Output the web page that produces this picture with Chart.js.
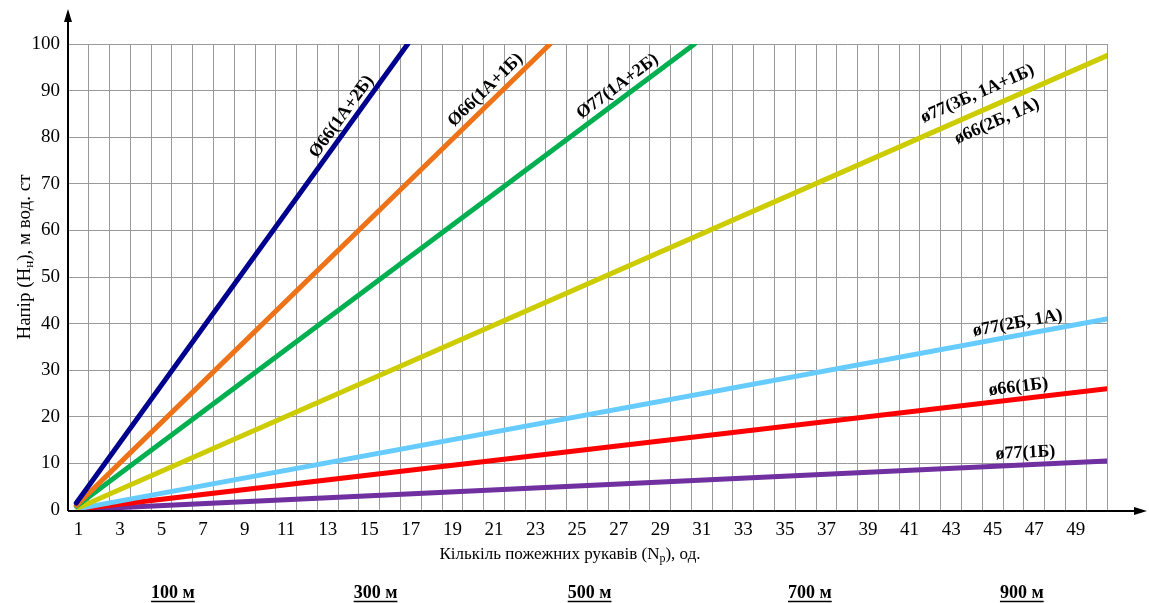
<!DOCTYPE html>
<html>
<head>
<meta charset="utf-8">
<script src="https://cdn.jsdelivr.net/npm/chart.js@4.4.1/dist/chart.umd.min.js"></script>
<style>
  html, body { margin: 0; padding: 0; background: #fff; }
  #wrap { width: 1149px; height: 603px; position: relative; }
</style>
</head>
<body>
<div id="wrap"><canvas id="chart"></canvas></div>
<script>
// x ticks: hose count, y ticks: head
var hoseTicks = [1, 2, 3, 4, 5, 6, 7, 8, 9, 10, 11, 12, 13, 14, 15, 16, 17, 18, 19, 20,
                 21, 22, 23, 24, 25, 26, 27, 28, 29, 30, 31, 32, 33, 34, 35, 36, 37, 38, 39, 40,
                 41, 42, 43, 44, 45, 46, 47, 48, 49, 50];
var headTicks = [0, 10, 20, 30, 40, 50, 60, 70, 80, 90, 100];

// series: [N, H] at start and end of each line
var d66_1A2B = [[0.9, 1.5], [16.85, 100]];
var d66_1A1B = [[0.9, 1.0], [23.7, 100]];
var d77_1A2B = [[0.9, 0.8], [30.65, 100]];
var d77_3B   = [[1.0, 0.5], [50.5, 97.5]];
var d77_2B1A = [[1.0, 0.3], [50.5, 41]];
var d66_1B   = [[1.0, 0.2], [50.5, 26]];
var d77_1B   = [[1.0, 0.1], [50.5, 10.5]];

var seriesNames = ['Ø66(1А+2Б)', 'Ø66(1А+1Б)', 'Ø77(1А+2Б)', 'ø77(3Б, 1А+1Б) / ø66(2Б, 1А)',
                   'ø77(2Б, 1А)', 'ø66(1Б)', 'ø77(1Б)'];
var seriesData = [d66_1A2B, d66_1A1B, d77_1A2B, d77_3B, d77_2B1A, d66_1B, d77_1B];
var seriesColors = ['#00008F', '#EE7318', '#00B050', '#CCCC00', '#66CCFF', '#FF0000', '#7030A0'];

// line labels: text, series index, position along line (N), offset from line (px, + is above)
var lineLabels = [
  ['Ø66(1А+2Б)', 0, 14.1, 11],
  ['Ø66(1А+1Б)', 1, 21.0, 12],
  ['Ø77(1А+2Б)', 2, 27.3, 12],
  ['ø77(3Б, 1А+1Б)', 3, 44.6, 17],
  ['ø66(2Б, 1А)', 3, 44.9, -16],
  ['ø77(2Б, 1А)', 4, 46.3, 12],
  ['ø66(1Б)', 5, 46.3, 12],
  ['ø77(1Б)', 6, 46.6, 12]
];
var distances = ['100 м', '300 м', '500 м', '700 м', '900 м'];
var distanceAt = [5.55, 15.3, 25.6, 36.2, 46.4];

var serif = "'Liberation Serif', 'DejaVu Serif', serif";

var datasets = seriesData.map(function (pts, i) {
  return {
    label: seriesNames[i],
    data: pts.map(function (p) { return { x: p[0], y: p[1] }; }),
    borderColor: seriesColors[i],
    backgroundColor: seriesColors[i],
    borderWidth: 5,
    borderCapStyle: 'round',
    pointRadius: 0,
    fill: false,
    order: i
  };
});

// draws text made of [string, isSubscript] parts centred on 0,0
function drawParts(ctx, parts, size) {
  var widths = parts.map(function (p) {
    ctx.font = (p[1] ? Math.round(size * 0.68) : size) + 'px ' + serif;
    return ctx.measureText(p[0]).width;
  });
  var total = widths.reduce(function (a, b) { return a + b; }, 0);
  var x = -total / 2;
  ctx.textAlign = 'left';
  parts.forEach(function (p, i) {
    ctx.font = (p[1] ? Math.round(size * 0.68) : size) + 'px ' + serif;
    ctx.fillText(p[0], x, p[1] ? size * 0.22 : 0);
    x += widths[i];
  });
}

var extrasPlugin = {
  id: 'extras',
  afterDatasetsDraw: function (chart) {
    var ctx = chart.ctx;
    var xs = chart.scales.x, ys = chart.scales.y;
    var area = chart.chartArea;

    ctx.save();
    // axes with arrows
    ctx.strokeStyle = '#000';
    ctx.fillStyle = '#000';
    ctx.lineWidth = 2;
    ctx.beginPath();
    ctx.moveTo(area.left, area.bottom + 1);
    ctx.lineTo(area.left, 18);
    ctx.moveTo(area.left, area.bottom + 1);
    ctx.lineTo(1138, area.bottom + 1);
    ctx.stroke();
    ctx.beginPath();
    ctx.moveTo(area.left, 9);
    ctx.lineTo(area.left - 4, 22);
    ctx.lineTo(area.left + 4, 22);
    ctx.closePath();
    ctx.fill();
    ctx.beginPath();
    ctx.moveTo(1147, area.bottom + 1);
    ctx.lineTo(1134, area.bottom - 3);
    ctx.lineTo(1134, area.bottom + 5);
    ctx.closePath();
    ctx.fill();

    // labels along the lines
    ctx.font = 'bold 18px ' + serif;
    ctx.textAlign = 'center';
    ctx.textBaseline = 'middle';
    lineLabels.forEach(function (l) {
      var pts = seriesData[l[1]];
      var x0 = xs.getPixelForValue(pts[0][0]), y0 = ys.getPixelForValue(pts[0][1]);
      var x1 = xs.getPixelForValue(pts[1][0]), y1 = ys.getPixelForValue(pts[1][1]);
      var ang = Math.atan2(y1 - y0, x1 - x0);
      var t = (l[2] - pts[0][0]) / (pts[1][0] - pts[0][0]);
      var px = x0 + (x1 - x0) * t, py = y0 + (y1 - y0) * t;
      px += Math.sin(ang) * l[3];
      py -= Math.cos(ang) * l[3];
      ctx.save();
      ctx.translate(px, py);
      ctx.rotate(ang);
      ctx.fillText(l[0], 0, 0);
      ctx.restore();
    });

    // axis titles
    ctx.save();
    ctx.translate(570, 555);
    drawParts(ctx, [['Кількіль пожежних рукавів (N', false], ['р', true], ['), од.', false]], 17);
    ctx.restore();
    ctx.save();
    ctx.translate(25, 257);
    ctx.rotate(-Math.PI / 2);
    drawParts(ctx, [['Напір (Н', false], ['н', true], ['), м вод. ст', false]], 19);
    ctx.restore();

    // hose line lengths
    ctx.font = 'bold 18px ' + serif;
    ctx.textAlign = 'center';
    ctx.lineWidth = 1.3;
    distances.forEach(function (d, i) {
      var cx = xs.getPixelForValue(distanceAt[i]);
      ctx.fillText(d, cx, 593);
      var w = ctx.measureText(d).width;
      ctx.beginPath();
      ctx.moveTo(cx - w / 2, 601.5);
      ctx.lineTo(cx + w / 2, 601.5);
      ctx.stroke();
    });
    ctx.restore();
  }
};

new Chart(document.getElementById('chart'), {
  type: 'line',
  data: { datasets: datasets },
  options: {
    responsive: true,
    maintainAspectRatio: false,
    animation: false,
    layout: { padding: { top: 44, right: 42, bottom: 0, left: 0 } },
    plugins: {
      legend: { display: false },
      tooltip: { enabled: false }
    },
    scales: {
      x: {
        type: 'linear',
        min: 0.5,
        max: 50.5,
        afterBuildTicks: function (scale) {
          scale.ticks = hoseTicks.map(function (v) { return { value: v }; });
        },
        afterFit: function (scale) { scale.height = 93; },
        grid: { offset: true, color: '#9a9a9a', lineWidth: 1, drawTicks: false },
        border: { display: false },
        ticks: {
          autoSkip: false,
          maxRotation: 0,
          padding: 9,
          color: '#000',
          font: { family: serif, size: 19 },
          callback: function (v) { return v % 2 === 1 ? String(v) : ''; }
        }
      },
      y: {
        min: 0,
        max: 100,
        afterBuildTicks: function (scale) {
          scale.ticks = headTicks.map(function (v) { return { value: v }; });
        },
        afterFit: function (scale) { scale.width = 68; },
        grid: { color: '#9a9a9a', lineWidth: 1, drawTicks: false },
        border: { display: false },
        ticks: {
          padding: 8,
          color: '#000',
          font: { family: serif, size: 19 }
        }
      }
    }
  },
  plugins: [extrasPlugin]
});
</script>
</body>
</html>
